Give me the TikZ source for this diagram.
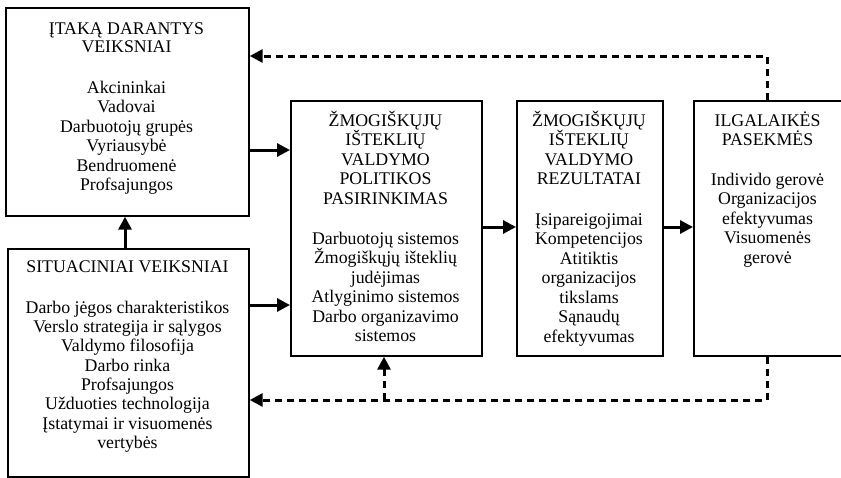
\documentclass[tikz,border=0pt]{standalone}
\usepackage{fontspec}
\setmainfont{Liberation Serif}
\usetikzlibrary{arrows.meta}
\newcommand\myfh{\rule{0pt}{16pt}}
\begin{document}
\begin{tikzpicture}[x=1pt,y=-1pt,
  box/.style={draw, line width=1.7pt, rectangle, inner sep=0pt, anchor=north west},
  txt/.style={anchor=north, align=center, inner sep=0pt, font=\fontsize{17.8}{19.5}\selectfont},
  link/.style={line width=3pt, -{Triangle[length=13pt,width=13pt]}},
  back/.style={link, dash pattern=on 7pt off 5pt}]
\useasboundingbox (0,0) rectangle (841,477);
% boxes
\node[box, minimum width=243pt, minimum height=208pt] (b1) at (5,7) {};
\node[box, minimum width=241pt, minimum height=228pt] (b2) at (7,248) {};
\node[box, minimum width=191pt, minimum height=255pt] (b3) at (290,100) {};
\node[box, minimum width=146pt, minimum height=255pt] (b4) at (516,100) {};
\node[box, minimum width=149pt, minimum height=255pt] (b5) at (693,100) {};
% texts (node top = first baseline - 16)
\node[txt, font=\fontsize{17.8}{18.5}\selectfont] (h1) at (126.5,18) {\myfh ĮTAKĄ DARANTYS\\VEIKSNIAI};
\node[txt] (t1) at (126.5,77) {\myfh Akcininkai\\Vadovai\\Darbuotojų grupės\\Vyriausybė\\Bendruomenė\\Profsajungos};
\node[txt] (h2) at (127.5,256) {\myfh SITUACINIAI VEIKSNIAI};
\node[txt, font=\fontsize{17.8}{19.3}\selectfont] (t2) at (127.5,297) {\myfh Darbo jėgos charakteristikos\\Verslo strategija ir sąlygos\\Valdymo filosofija\\Darbo rinka\\Profsajungos\\Užduoties technologija\\Įstatymai ir visuomenės\\vertybės};
\node[txt] (h3) at (385.5,110) {\myfh ŽMOGIŠKŲJŲ\\IŠTEKLIŲ\\VALDYMO\\POLITIKOS\\PASIRINKIMAS};
\node[txt] (t3) at (385.5,228) {\myfh Darbuotojų sistemos\\Žmogiškųjų išteklių\\judėjimas\\Atlyginimo sistemos\\Darbo organizavimo\\sistemos};
\node[txt] (h4) at (589,110) {\myfh ŽMOGIŠKŲJŲ\\IŠTEKLIŲ\\VALDYMO\\REZULTATAI};
\node[txt] (t4) at (589,209) {\myfh Įsipareigojimai\\Kompetencijos\\Atitiktis\\organizacijos\\tikslams\\Sąnaudų\\efektyvumas};
\node[txt] (h5) at (767.5,110) {\myfh ILGALAIKĖS\\PASEKMĖS};
\node[txt] (t5) at (767.5,169) {\myfh Individo gerovė\\Organizacijos\\efektyvumas\\Visuomenės\\gerovė};
% helper coordinates
\coordinate (xu) at (125,0);
\coordinate (yA) at (0,150);
\coordinate (yB) at (0,305);
\coordinate (yC) at (0,227);
\coordinate (xD) at (767,0);
\coordinate (yTop) at (0,56);
\coordinate (yBot) at (0,400);
\coordinate (j) at (384,400);
% connectors
\draw[link] (b2.north -| xu) -- (b1.south -| xu);
\draw[link] (b1.east |- yA) -- (b3.west |- yA);
\draw[link] (b2.east |- yB) -- (b3.west |- yB);
\draw[link] (b3.east |- yC) -- (b4.west |- yC);
\draw[link] (b4.east |- yC) -- (b5.west |- yC);
\draw[back] (b5.north -| xD) |- (b1.east |- yTop);
\draw[back] (b5.south -| xD) |- (b2.east |- yBot);
\draw[back] (j) -- (b3.south -| j);
\end{tikzpicture}
\end{document}
